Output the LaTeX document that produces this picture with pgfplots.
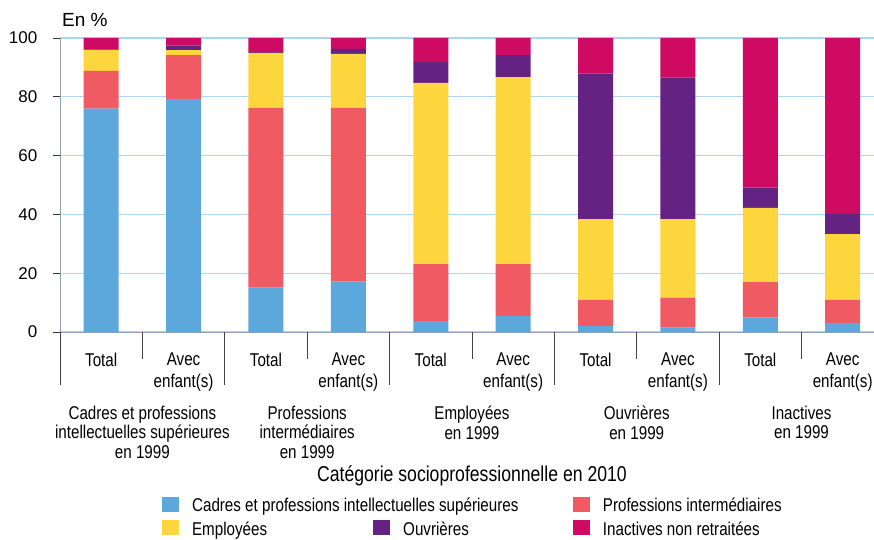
\documentclass[border=0pt]{standalone}
\usepackage{pgfplots}
\usepackage{pgfplotstable}
\pgfplotsset{compat=1.18}
\usepackage{fontspec}
\setmainfont{Liberation Sans}
\newfontfamily\narrow{Liberation Sans}[FakeStretch=0.82]
\definecolor{cBlue}{HTML}{5CA8DC}
\definecolor{cRed}{HTML}{F05A63}
\definecolor{cYellow}{HTML}{FDD53D}
\definecolor{cPurple}{HTML}{642383}
\definecolor{cMagenta}{HTML}{CF0A62}
\definecolor{gridblue}{HTML}{AAD6F2}
\definecolor{axisgray}{HTML}{93A1AE}
\definecolor{sepgray}{HTML}{444444}

\pgfplotstableread{
x blue red yellow purple magenta
0 76.0 12.8 7.1 0.2 3.9
1 79.3 14.9 1.7 1.5 2.6
2 15.1 61.1 18.7 0.3 4.8
3 17.1 59.1 18.4 1.7 3.7
4 3.7 19.4 61.6 7.1 8.2
5 5.4 17.7 63.6 7.5 5.8
6 2.0 8.9 27.5 49.5 12.1
7 1.5 10.2 26.7 48.1 13.5
8 4.9 12.1 25.2 6.9 50.9
9 3.1 7.8 22.4 6.9 59.8
}\data

\begin{document}
\begin{tikzpicture}
\useasboundingbox (0,0) rectangle (874bp,540bp);
\begin{axis}[
  at={(60bp,208bp)}, anchor=south west,
  scale only axis, width=814bp, height=294bp,
  xmin=-0.5, xmax=9.38, ymin=0, ymax=100,
  clip=false,
  ybar stacked, bar width=35bp,
  axis x line*=bottom, axis y line*=left,
  axis line style={draw=axisgray, line width=1bp, -},
  ytick={0,20,...,100},
  xtick={0,...,9},
  xticklabels={Total,{Avec\\enfant(s)},Total,{Avec\\enfant(s)},Total,{Avec\\enfant(s)},Total,{Avec\\enfant(s)},Total,{Avec\\enfant(s)}},
  tick align=outside,
  major tick length=7bp,
  ytick style={draw=black!80, line width=0.8bp},
  xtick style={draw=none},
  ymajorgrids,
  major grid style={draw=gridblue, line width=1.2bp},
  /pgf/number format/assume math mode=true,
  yticklabel style={font=\fontsize{17bp}{20bp}\selectfont, inner sep=0pt, anchor=east, xshift=-15.5bp},
  xticklabel style={font=\narrow\fontsize{18.5bp}{22bp}\selectfont, align=center, inner sep=0pt, anchor=north, yshift=-13.5bp},
  legend columns=3,
  legend cell align=left,
  legend style={at={(axis description cs:0.1257,-0.5575)}, anchor=north west,
    draw=none, fill=none, inner sep=0pt, outer sep=0pt,
    row sep=7.4bp, column sep=14bp,
    /tikz/every even column/.append style={column sep=10bp},
    font=\narrow\fontsize{18.5bp}{20bp}\selectfont,
    nodes={inner sep=0pt, text height=16bp, text depth=0bp}},
]
\addplot[fill=cBlue, draw=none, forget plot] table[x=x,y=blue]{\data};
\addplot[fill=cRed, draw=none, forget plot] table[x=x,y=red]{\data};
\addplot[fill=cYellow, draw=none, forget plot] table[x=x,y=yellow]{\data};
\addplot[fill=cPurple, draw=none, forget plot] table[x=x,y=purple]{\data};
\addplot[fill=cMagenta, draw=none, forget plot] table[x=x,y=magenta]{\data};

\addlegendimage{legend image code/.code={\fill[cBlue] (0bp,-7.2bp) rectangle (15.4bp,7.2bp);}}
\addlegendentry{\makebox[171.3bp][l]{Cadres et professions intellectuelles supérieures}}
\addlegendimage{empty legend}
\addlegendentry{}
\addlegendimage{legend image code/.code={\fill[cRed] (0bp,-7.2bp) rectangle (15.4bp,7.2bp);}}
\addlegendentry{Professions intermédiaires}
\addlegendimage{legend image code/.code={\fill[cYellow] (0bp,-7.2bp) rectangle (15.4bp,7.2bp);}}
\addlegendentry{\makebox[171.3bp][l]{Employées}}
\addlegendimage{legend image code/.code={\fill[cPurple] (0bp,-7.2bp) rectangle (15.4bp,7.2bp);}}
\addlegendentry{\makebox[159.9bp][l]{Ouvrières}}
\addlegendimage{legend image code/.code={\fill[cMagenta] (0bp,-7.2bp) rectangle (15.4bp,7.2bp);}}
\addlegendentry{Inactives non retraitées}

% group separators
\pgfplotsinvokeforeach{-0.5,1.5,3.5,5.5,7.5}{\draw[sepgray, line width=0.9bp] (axis cs:#1,0) -- ([yshift=-53bp]axis cs:#1,0);}
\pgfplotsinvokeforeach{0.5,2.5,4.5,6.5,8.5}{\draw[sepgray, line width=0.9bp] (axis cs:#1,0) -- ([yshift=-27bp]axis cs:#1,0);}

\node[anchor=north, align=center, inner sep=0pt, font=\narrow\fontsize{18.5bp}{19.8bp}\selectfont, yshift=-73.5bp] at (axis cs:0.5,0) {Cadres et professions\\intellectuelles supérieures\\en 1999};
\node[anchor=north, align=center, inner sep=0pt, font=\narrow\fontsize{18.5bp}{19.8bp}\selectfont, yshift=-73.5bp] at (axis cs:2.5,0) {Professions\\intermédiaires\\en 1999};
\node[anchor=north, align=center, inner sep=0pt, font=\narrow\fontsize{18.5bp}{19.8bp}\selectfont, yshift=-73.5bp] at (axis cs:4.5,0) {Employées\\en 1999};
\node[anchor=north, align=center, inner sep=0pt, font=\narrow\fontsize{18.5bp}{19.8bp}\selectfont, yshift=-73.5bp] at (axis cs:6.5,0) {Ouvrières\\en 1999};
\node[anchor=north, align=center, inner sep=0pt, font=\narrow\fontsize{18.5bp}{19.8bp}\selectfont, yshift=-73.5bp] at (axis cs:8.5,0) {Inactives\\en 1999};
\node[anchor=base, inner sep=0pt, font=\narrow\fontsize{21.5bp}{24bp}\selectfont, yshift=-149bp] at (axis cs:4.5,0) {Catégorie socioprofessionnelle en 2010};
\end{axis}
\node[anchor=base west, inner sep=0pt, font=\fontsize{19bp}{22bp}\selectfont] at (62bp,513bp) {En \%};
\end{tikzpicture}
\end{document}
